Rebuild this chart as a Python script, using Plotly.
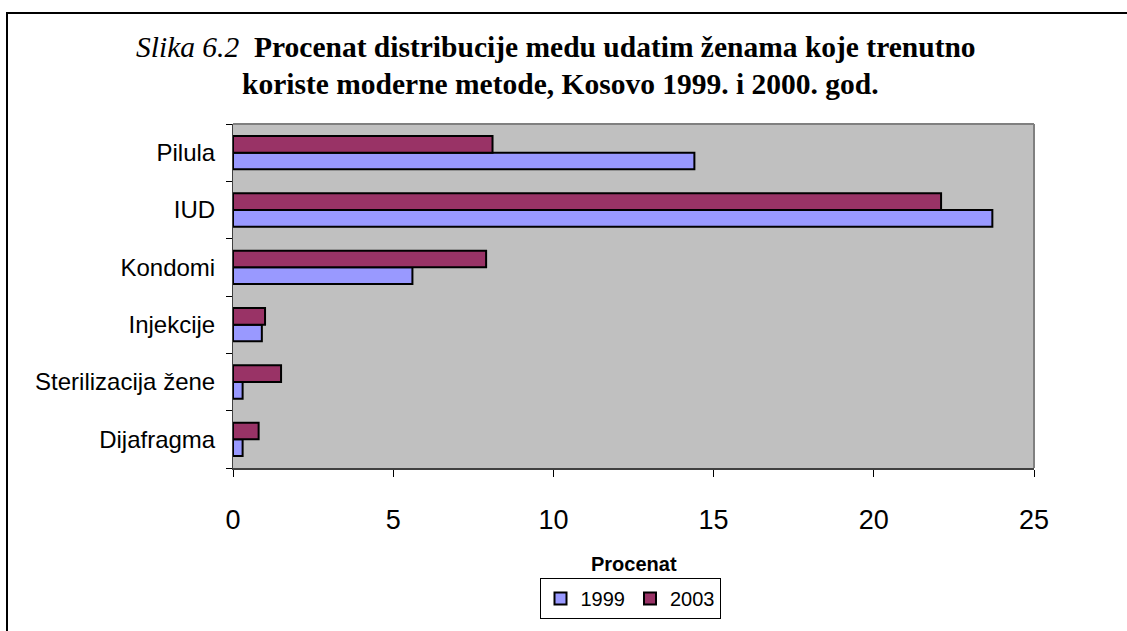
import plotly.graph_objects as go

categories = ["Dijafragma", "Sterilizacija žene", "Injekcije", "Kondomi", "IUD", "Pilula"]
values_1999 = [0.3, 0.3, 0.9, 5.6, 23.7, 14.4]
values_2003 = [0.8, 1.5, 1.0, 7.9, 22.1, 8.1]
series_names = ["1999", "2003"]
x_ticks = [0, 5, 10, 15, 20, 25]

W, H = 1127, 631
L, R, T, B = 233, 1034, 124, 477

fig = go.Figure()
fig.add_trace(go.Bar(y=categories, x=values_1999, name=series_names[0], orientation="h",
                     marker=dict(color="#9999FF", line=dict(color="black", width=2))))
fig.add_trace(go.Bar(y=categories, x=values_2003, name=series_names[1], orientation="h",
                     marker=dict(color="#993366", line=dict(color="black", width=2))))

pw, ph = R - L, B - T
def px(x):
    return (x - L) / pw
def py(y):
    return (B - y) / ph

fig.update_layout(
    width=W, height=H,
    margin=dict(l=L, r=W - R, t=T, b=H - B, pad=0),
    paper_bgcolor="white", plot_bgcolor="#C0C0C0",
    barmode="group", bargap=0.42, bargroupgap=0,
    showlegend=True,
    legend=dict(orientation="h", x=px(630), xanchor="center", y=py(590), yanchor="top",
                bordercolor="black", borderwidth=1, bgcolor="white",
                font=dict(family="Liberation Sans, Arial", size=20, color="black"),
                itemwidth=30, tracegroupgap=0),
    xaxis=dict(range=[0, 25], tickvals=x_ticks, ticktext=[str(v) for v in x_ticks],
               showgrid=False, zeroline=False, showline=True, linecolor="#404040", linewidth=2,
               ticks="outside", ticklen=7, tickcolor="black", tickwidth=1,
               tickfont=dict(family="Liberation Sans, Arial", size=27, color="black"),
               ticklabelstandoff=20, fixedrange=True),
    yaxis=dict(categoryorder="array", categoryarray=categories,
               showgrid=False, zeroline=False, showline=True, linecolor="#404040", linewidth=1,
               ticks="outside", ticklen=6, tickcolor="black", tickson="boundaries",
               tickfont=dict(family="Liberation Sans, Arial", size=24, color="black"),
               ticklabelstandoff=12, fixedrange=True),
)

# plot area border (top/right gray)
fig.add_shape(type="line", xref="paper", yref="paper", x0=0, x1=1, y0=1, y1=1,
              line=dict(color="#808080", width=2))
fig.add_shape(type="line", xref="paper", yref="paper", x0=1, x1=1, y0=0, y1=1,
              line=dict(color="#808080", width=2))
# outer chart border
fig.add_shape(type="rect", xref="paper", yref="paper", x0=px(7), x1=px(W + 20), y0=py(10), y1=py(H + 20),
              line=dict(color="black", width=2), fillcolor="rgba(0,0,0,0)", layer="below")

title_font = dict(family="Liberation Serif, Times New Roman", size=29.5, color="black")
fig.add_annotation(xref="paper", yref="paper", x=px(556), y=py(45), xanchor="center", yanchor="middle",
                   text="<i>Slika 6.2</i>  <b>Procenat distribucije medu udatim ženama koje trenutno</b>",
                   showarrow=False, font=title_font)
fig.add_annotation(xref="paper", yref="paper", x=px(560), y=py(83), xanchor="center", yanchor="middle",
                   text="<b>koriste moderne metode, Kosovo 1999. i 2000. god.</b>",
                   showarrow=False, font=title_font)
fig.add_annotation(xref="paper", yref="paper", x=px(634), y=py(576), xanchor="center", yanchor="middle",
                   text="<b>Procenat</b>", showarrow=False,
                   font=dict(family="Liberation Sans, Arial", size=20, color="black"))

fig.write_html("out.html", config={"displayModeBar": False},
               post_script="document.body.style.margin='0px';")
